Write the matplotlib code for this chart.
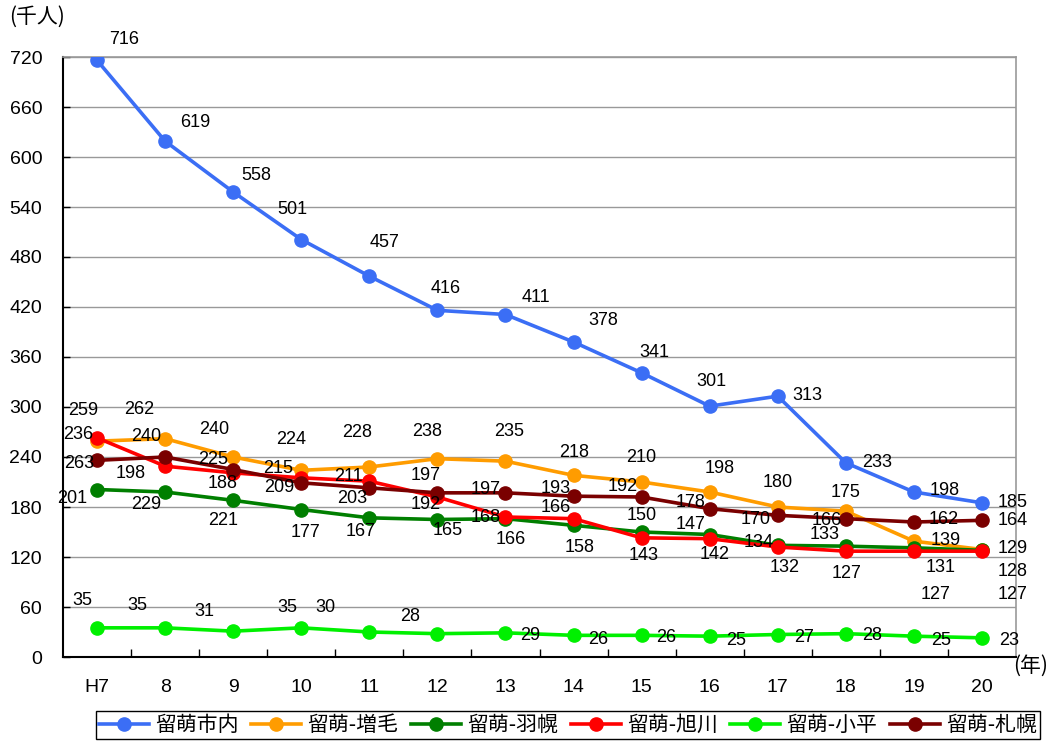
import numpy as np
import matplotlib
matplotlib.use("Agg")
import matplotlib.pyplot as plt

plt.rcParams['font.family'] = ['Liberation Sans', 'Noto Sans CJK JP', 'DejaVu Sans']

# data
years = ['H7', '8', '9', '10', '11', '12', '13', '14', '15', '16', '17', '18', '19', '20']
names = ['留萌市内', '留萌-増毛', '留萌-羽幌', '留萌-旭川', '留萌-小平', '留萌-札幌']
shinai = [716, 619, 558, 501, 457, 416, 411, 378, 341, 301, 313, 233, 198, 185]
mashike = [259, 262, 240, 224, 228, 238, 235, 218, 210, 198, 180, 175, 139, 129]
haboro = [201, 198, 188, 177, 167, 165, 166, 158, 150, 147, 134, 133, 131, 128]
asahikawa = [263, 229, 221, 215, 211, 192, 168, 166, 143, 142, 132, 127, 127, 127]
obira = [35, 35, 31, 35, 30, 28, 29, 26, 26, 25, 27, 28, 25, 23]
sapporo = [236, 240, 225, 209, 203, 197, 197, 193, 192, 178, 170, 166, 162, 164]

colors = ['#3B6EF5', '#FF9C00', '#007F00', '#FF0000', '#00F000', '#7A0000']

# where each value label sits relative to its point (pixels, up = +)
label_offsets = [
    [(27, 21), (30, 19), (23, 16), (-9, 30), (15, 34), (8, 22), (30, 17), (30, 21), (13, 20), (2, 25), (30, 1), (31, 0), (31, 1), (31, 0)],
    [(-14, 31), (-26, 29), (-19, 27), (-10, 31), (-12, 34), (-10, 27), (4, 30), (1, 23), (0, 24), (10, 23), (0, 24), (0, 19), (32, 1), (31, 1)],
    [(-25, -9), (-34, 18), (-11, 17), (4, -23), (-9, -14), (10, -11), (5, -21), (6, -22), (0, 16), (-19, 10), (-19, 3), (-21, 12), (27, -20), (31, -21)],
    [(-18, -26), (-19, -38), (-10, -48), (-23, 9), (-21, 5), (-12, -8), (-20, 0), (-18, 11), (2, -18), (5, -16), (7, -21), (1, -22), (22, -43), (31, -43)],
    [(-15, 27), (-28, 22), (-29, 20), (-14, 20), (-44, 25), (-27, 17), (25, -3), (25, -4), (25, -2), (26, -4), (26, -3), (26, -2), (27, -4), (27, -3)],
    [(-19, 26), (-19, 20), (-20, 10), (-22, -5), (-17, -11), (-12, 17), (-20, 3), (-18, 8), (-19, 10), (-19, 6), (-22, -4), (-19, -2), (30, 2), (31, 0)],
]

series = [shinai, mashike, haboro, asahikawa, obira, sapporo]

fig = plt.figure(figsize=(10.52, 7.43), dpi=100)
ax = fig.add_axes([63 / 1052, 1 - 657 / 743, (1016 - 63) / 1052, 600 / 743])

x = np.arange(len(years))
for vals, name, c, offs in zip(series, names, colors, label_offsets):
    ax.plot(x, vals, color=c, lw=2.6, marker='o', markersize=9.5, label=name, zorder=3)
    for xi, v, (dx, dy) in zip(x, vals, offs):
        ax.annotate(str(v), (xi, v), xytext=(dx, dy), textcoords='offset pixels',
                    ha='center', va='center', fontsize=13, color='black', zorder=5)

ax.set_xlim(-0.5, len(years) - 0.5)
ax.set_ylim(0, 720)
ax.set_yticks(np.arange(0, 721, 60))
ax.set_xticks(x)
ax.set_xticklabels(years)
ax.set_xticks(np.arange(0.5, len(years) - 1, 1), minor=True)
ax.tick_params(axis='x', which='major', length=0, pad=16, labelsize=14)
ax.tick_params(axis='x', which='minor', direction='in', length=6, width=1)
ax.tick_params(axis='y', direction='in', length=5, width=1, pad=15, labelsize=14)
ax.grid(axis='y', color='#999999', lw=1)
ax.set_axisbelow(True)

for s in ['left', 'bottom']:
    ax.spines[s].set_color('black')
    ax.spines[s].set_linewidth(1.5)
for s in ['top', 'right']:
    ax.spines[s].set_color('#999999')
    ax.spines[s].set_linewidth(1.2)

fig.text(37 / 1052, 1 - 17 / 743, '(千人)', fontsize=15, ha='center', va='center',
         family=['Noto Sans CJK JP'])
fig.text(1031 / 1052, 1 - 666 / 743, '(年)', fontsize=15, ha='center', va='center',
         family=['Noto Sans CJK JP'])

leg = fig.legend(loc='center', bbox_to_anchor=(568 / 1052, 1 - 725 / 743), ncol=6,
                 frameon=True, fancybox=False, edgecolor='black', framealpha=1,
                 prop={'family': ['Noto Sans CJK JP'], 'size': 15},
                 handlelength=2.4, handletextpad=0.3, columnspacing=0.6,
                 borderpad=0.15, borderaxespad=0)
leg.get_frame().set_linewidth(1)

fig.savefig('out.png', dpi=100)
